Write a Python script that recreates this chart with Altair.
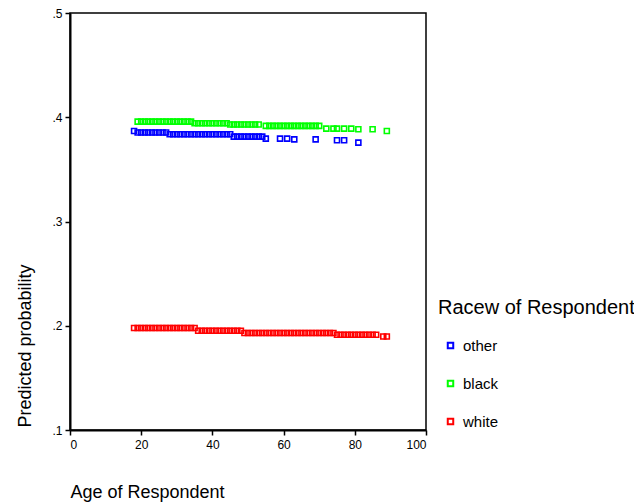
import altair as alt
import pandas as pd

races = ["other", "black", "white"]
colors = ["#0000ff", "#00ff00", "#ff0000"]

other_age = [18, 19, 20, 21, 22, 23, 24, 25, 26, 27,
             28, 29, 30, 31, 32, 33, 34, 35, 36, 37, 38, 39, 40, 41, 42, 43, 44, 45,
             46, 47, 48, 49, 50, 51, 52, 53, 54,
             55, 59, 61, 63, 69, 75, 77, 81]
other_prob = [0.3868, 0.3853, 0.3853, 0.3853, 0.3853, 0.3853, 0.3853, 0.3853, 0.3853, 0.3853,
              0.3837, 0.3837, 0.3837, 0.3837, 0.3837, 0.3837, 0.3837, 0.3837, 0.3837, 0.3837,
              0.3837, 0.3837, 0.3837, 0.3837, 0.3837, 0.3837, 0.3837, 0.3837,
              0.3814, 0.3814, 0.3814, 0.3814, 0.3814, 0.3814, 0.3814, 0.3814, 0.3814,
              0.3795, 0.3795, 0.3795, 0.3788, 0.3788, 0.3779, 0.3779, 0.3757]

black_age = [19, 20, 21, 22, 23, 24, 25, 26, 27, 28, 29, 30, 31, 32, 33, 34,
             35, 36, 37, 38, 39, 40, 41, 42, 43, 44,
             45, 46, 47, 48, 49, 50, 51, 52, 53,
             55, 56, 57, 58, 59, 60, 61, 62, 63, 64, 65, 66, 67, 68, 69, 70,
             72, 74, 75, 77, 79, 81, 85, 89]
black_prob = [0.3958, 0.3958, 0.3958, 0.3958, 0.3958, 0.3958, 0.3958, 0.3958,
              0.3958, 0.3958, 0.3958, 0.3958, 0.3958, 0.3958, 0.3958, 0.3958,
              0.3942, 0.3942, 0.3942, 0.3942, 0.3942, 0.3942, 0.3942, 0.3942, 0.3942, 0.3942,
              0.3930, 0.3930, 0.3930, 0.3930, 0.3930, 0.3930, 0.3930, 0.3930, 0.3930,
              0.3917, 0.3917, 0.3917, 0.3917, 0.3917, 0.3917, 0.3917, 0.3917,
              0.3917, 0.3917, 0.3917, 0.3917, 0.3917, 0.3917, 0.3917, 0.3917,
              0.3891, 0.3891, 0.3891, 0.3891, 0.3891, 0.3885, 0.3885, 0.3868]

white_age = [18, 19, 20, 21, 22, 23, 24, 25, 26, 27, 28, 29, 30, 31, 32, 33, 34, 35,
             36, 37, 38, 39, 40, 41, 42, 43, 44, 45, 46, 47, 48,
             49, 50, 51, 52, 53, 54, 55, 56, 57, 58, 59, 60, 61, 62, 63, 64, 65, 66,
             67, 68, 69, 70, 71, 72, 73, 74,
             75, 76, 77, 78, 79, 80, 81, 82, 83, 84, 85, 86, 88, 89]
white_prob = [0.1978, 0.1978, 0.1978, 0.1978, 0.1978, 0.1978, 0.1978, 0.1978, 0.1978,
              0.1978, 0.1978, 0.1978, 0.1978, 0.1978, 0.1978, 0.1978, 0.1978, 0.1978,
              0.1952, 0.1952, 0.1952, 0.1952, 0.1952, 0.1952, 0.1952, 0.1952, 0.1952,
              0.1952, 0.1952, 0.1952, 0.1952,
              0.1930, 0.1930, 0.1930, 0.1930, 0.1930, 0.1930, 0.1930, 0.1930, 0.1930,
              0.1930, 0.1930, 0.1930, 0.1930, 0.1930, 0.1930, 0.1930, 0.1930, 0.1930,
              0.1930, 0.1930, 0.1930, 0.1930, 0.1930, 0.1930, 0.1930, 0.1930,
              0.1913, 0.1913, 0.1913, 0.1913, 0.1913, 0.1913, 0.1913, 0.1913, 0.1913,
              0.1913, 0.1913, 0.1913, 0.1897, 0.1897]

x_ticks = [0, 20, 40, 60, 80, 100]
y_ticks = [0.1, 0.2, 0.3, 0.4, 0.5]

rows = []
for race, ages, probs in [("other", other_age, other_prob),
                          ("black", black_age, black_prob),
                          ("white", white_age, white_prob)]:
    for a, p in zip(ages, probs):
        rows.append({"age": a, "prob": p, "race": race})
df = pd.DataFrame(rows)

FONT = "Liberation Sans"

chart = alt.Chart(df).mark_point(
    shape="square", filled=False, size=25, strokeWidth=1.6, opacity=1
).encode(
    x=alt.X("age:Q",
            scale=alt.Scale(domain=[0, 100], nice=False, zero=False),
            axis=alt.Axis(values=x_ticks, title="Age of Respondent",
                          titleX=0, titleY=67, titleAlign="left", titleAnchor="start",
                          titleBaseline="alphabetic", labelPadding=4)),
    y=alt.Y("prob:Q",
            scale=alt.Scale(domain=[0.1, 0.5], nice=False, zero=False),
            axis=alt.Axis(values=y_ticks, title="Predicted probability",
                          labelExpr="substring(format(datum.value, '.1f'), 1)",
                          titleX=-40, titleY=414, titleAngle=270, titleAlign="left",
                          titleAnchor="start", titleBaseline="alphabetic", labelPadding=3)),
    color=alt.Color("race:N",
                    scale=alt.Scale(domain=races, range=colors),
                    legend=alt.Legend(title="Racew of Respondent", orient="none",
                                      legendX=368, legendY=285, padding=0,
                                      titleFontSize=20, titleFont=FONT, titleFontWeight="normal",
                                      titleColor="#000000", titlePadding=20, titleLimit=400,
                                      labelFontSize=15, labelFont=FONT, labelColor="#000000",
                                      symbolType="square", symbolSize=30, symbolStrokeWidth=2,
                                      symbolOffset=5, labelOffset=5, rowPadding=22)),
).properties(
    width=356, height=417,
    autosize=alt.AutoSizeParams(type="none"),
    padding={"left": 62, "top": 5, "right": 208, "bottom": 74},
).configure_view(
    stroke="#000000", strokeWidth=1.5
).configure_axis(
    grid=False, domainColor="#000000", domainWidth=2, tickColor="#000000",
    tickWidth=1.5, tickSize=5, labelColor="#000000", labelFont=FONT, labelFontSize=12,
    titleFont=FONT, titleFontSize=18, titleFontWeight="normal", titleColor="#000000"
)

chart.save("out.html", embed_options={"renderer": "svg", "actions": False})
